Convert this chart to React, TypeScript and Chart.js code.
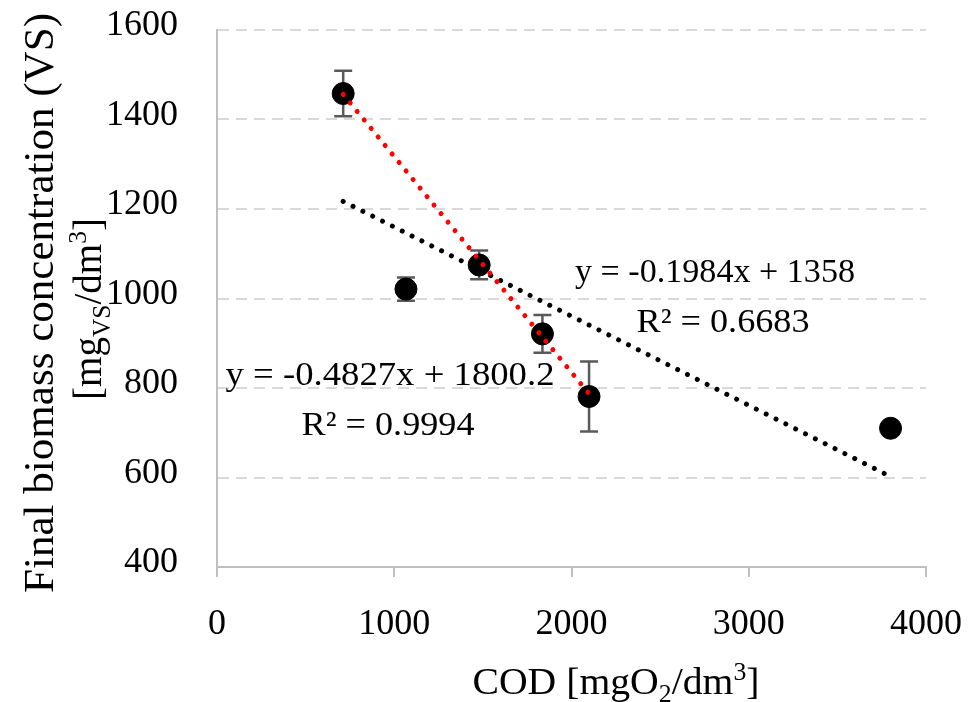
import React, { useEffect, useRef } from "react";
import { Chart, registerables } from "chart.js";

Chart.register(...registerables);

const FONT = "'Liberation Serif', 'Times New Roman', serif";

// Measured data (COD vs final biomass concentration)
const codValues = [712, 1066, 1479, 1836, 2099, 3800];
const biomassValues = [1458, 1021, 1075, 921, 781, 710];
const biomassErrors = [51, 26, 32, 42, 78, 12];

// Linear trend over all points (black dotted)
const trendAllX = [712, 3800];
const trendAllY = [1217, 602];
// Linear trend over first points (red dotted)
const trendRedX = [712, 2099];
const trendRedY = [1456, 787];

const xTicks = [0, 1000, 2000, 3000, 4000];
const yTicks = [400, 600, 800, 1000, 1200, 1400, 1600];

const eqAll = "y = -0.1984x + 1358";
const r2All = "R² = 0.6683";
const eqRed = "y = -0.4827x + 1800.2";
const r2Red = "R² = 0.9994";

type Run = { t: string; k?: "sub" | "sup" };

function drawRuns(
  ctx: CanvasRenderingContext2D,
  runs: Run[],
  x: number,
  y: number,
  size: number,
  targetWidth: number | null,
  rotate: boolean
) {
  ctx.save();
  ctx.translate(x, y);
  if (rotate) ctx.rotate(-Math.PI / 2);
  const fontFor = (k?: string) => `${k ? size * 0.65 : size}px ${FONT}`;
  let w = 0;
  const widths: number[] = [];
  for (const r of runs) {
    ctx.font = fontFor(r.k);
    const mw = ctx.measureText(r.t).width;
    widths.push(mw);
    w += mw;
  }
  const sx = targetWidth ? targetWidth / w : 1;
  ctx.scale(sx, 1);
  ctx.textAlign = "left";
  ctx.textBaseline = "alphabetic";
  ctx.fillStyle = "#000";
  let cx = -w / 2;
  runs.forEach((r, i) => {
    ctx.font = fontFor(r.k);
    const dy = r.k === "sub" ? size * 0.22 : r.k === "sup" ? -size * 0.38 : 0;
    ctx.fillText(r.t, cx, dy);
    cx += widths[i];
  });
  ctx.restore();
}

const errorBarPlugin = {
  id: "errorBars",
  beforeDatasetsDraw(chart: any) {
    const { ctx, scales } = chart;
    const xs = scales.x;
    const ys = scales.y;
    ctx.save();
    ctx.strokeStyle = "#595959";
    ctx.lineWidth = 2.5;
    codValues.forEach((xv, i) => {
      const px = xs.getPixelForValue(xv);
      const top = ys.getPixelForValue(biomassValues[i] + biomassErrors[i]);
      const bot = ys.getPixelForValue(biomassValues[i] - biomassErrors[i]);
      ctx.beginPath();
      ctx.moveTo(px, top);
      ctx.lineTo(px, bot);
      ctx.moveTo(px - 9, top);
      ctx.lineTo(px + 9, top);
      ctx.moveTo(px - 9, bot);
      ctx.lineTo(px + 9, bot);
      ctx.stroke();
    });
    ctx.restore();
  },
};

const textPlugin = {
  id: "texts",
  afterDraw(chart: any) {
    const ctx = chart.ctx as CanvasRenderingContext2D;
    // Y title
    drawRuns(ctx, [{ t: "Final biomass concentration (VS)" }], 53, 303, 43, 580, true);
    drawRuns(
      ctx,
      [{ t: "[mg" }, { t: "VS", k: "sub" }, { t: "/dm" }, { t: "3", k: "sup" }, { t: "]" }],
      101,
      309,
      39,
      182,
      true
    );
    // X title
    drawRuns(
      ctx,
      [{ t: "COD [mgO" }, { t: "2", k: "sub" }, { t: "/dm" }, { t: "3", k: "sup" }, { t: "]" }],
      616,
      694,
      38,
      287,
      false
    );
    // Annotations
    drawRuns(ctx, [{ t: eqAll }], 715, 282, 34, 280, false);
    drawRuns(ctx, [{ t: r2All }], 723, 332, 34, 173, false);
    drawRuns(ctx, [{ t: eqRed }], 390, 385, 34, 329, false);
    drawRuns(ctx, [{ t: r2Red }], 388, 435, 34, 173, false);
  },
};

const noPad = (s: any) => {
  s.paddingLeft = 0;
  s.paddingRight = 0;
  s.paddingTop = 0;
  s.paddingBottom = 0;
};

export default function App() {
  const ref = useRef<HTMLCanvasElement | null>(null);
  useEffect(() => {
    if (!ref.current) return;
    const points = codValues.map((x, i) => ({ x, y: biomassValues[i] }));
    const tAll = trendAllX.map((x, i) => ({ x, y: trendAllY[i] }));
    const tRed = trendRedX.map((x, i) => ({ x, y: trendRedY[i] }));
    const chart = new Chart(ref.current, {
      type: "scatter",
      data: {
        datasets: [
          {
            label: "data",
            data: points,
            pointRadius: 11,
            pointBackgroundColor: "#000",
            pointBorderColor: "#000",
            pointBorderWidth: 1,
            showLine: false,
            order: 3,
          },
          {
            label: "trend all",
            data: tAll,
            showLine: true,
            pointRadius: 0,
            borderColor: "#000",
            borderWidth: 5,
            borderDash: [0.01, 11],
            borderCapStyle: "round",
            order: 2,
          },
          {
            label: "trend red",
            data: tRed,
            showLine: true,
            pointRadius: 0,
            borderColor: "#ff0000",
            borderWidth: 5,
            borderDash: [0.01, 11],
            borderCapStyle: "round",
            order: 1,
          },
        ],
      } as any,
      options: {
        animation: false,
        responsive: false,
        events: [],
        layout: { padding: { top: 30, right: 44, left: 0, bottom: 0 } },
        plugins: { legend: { display: false }, tooltip: { enabled: false } },
        scales: {
          x: {
            type: "linear",
            min: 0,
            max: 4000,
            afterFit: (s: any) => {
              s.height = 702 - 567;
              noPad(s);
            },
            afterBuildTicks: (s: any) => {
              s.ticks = xTicks.map((v) => ({ value: v }));
            },
            ticks: {
              color: "#000",
              font: { family: FONT, size: 36 },
              padding: 26,
              maxRotation: 0,
              callback: (v: any) => String(v),
            },
            grid: {
              drawOnChartArea: false,
              drawTicks: true,
              tickLength: 10,
              color: "#bfbfbf",
              lineWidth: 2,
            },
            border: { display: true, color: "#bfbfbf", width: 2 },
          },
          y: {
            type: "linear",
            min: 400,
            max: 1600,
            afterFit: (s: any) => {
              s.width = 217;
              noPad(s);
            },
            afterBuildTicks: (s: any) => {
              s.ticks = yTicks.map((v) => ({ value: v }));
            },
            ticks: {
              color: "#000",
              font: { family: FONT, size: 36 },
              padding: 39,
              labelOffset: -4,
              callback: (v: any) => String(v),
            },
            grid: {
              drawTicks: false,
              color: (c: any) => (c.tick && c.tick.value === 400 ? "rgba(0,0,0,0)" : "#d9d9d9"),
              lineWidth: 2,
            },
            border: { display: true, color: "#bfbfbf", width: 2, dash: [11, 7] },
          },
        },
      },
      plugins: [errorBarPlugin, textPlugin],
    } as any);
    return () => chart.destroy();
  }, []);
  return (
    <div style={{ position: "fixed", left: 0, top: 0, width: 970, height: 702, background: "#fff" }}>
      <canvas ref={ref} width={970} height={702} style={{ width: 970, height: 702, display: "block" }} />
    </div>
  );
}
